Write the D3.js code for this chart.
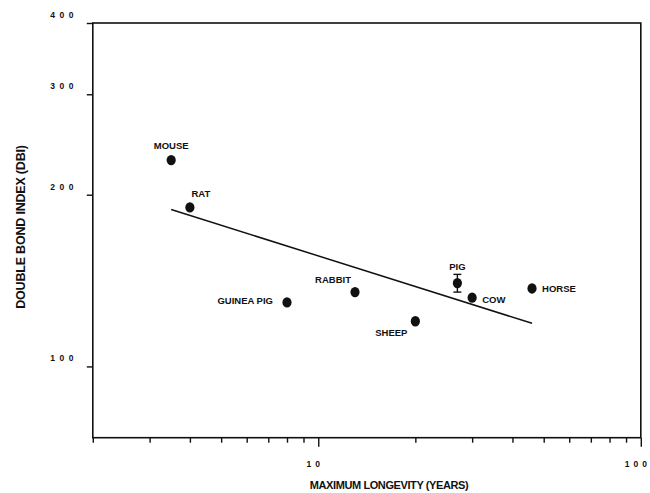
<!DOCTYPE html>
<html>
<head>
<meta charset="utf-8">
<script src="https://cdn.jsdelivr.net/npm/d3@7"></script>
<style>
  body { margin: 0; background: #fff; }
  text { font-family: "Liberation Sans", Arial, sans-serif; font-weight: bold; fill: #111; }
</style>
</head>
<body>
<div id="chart"></div>
<script>
// values
const species = ["MOUSE", "RAT", "GUINEA PIG", "RABBIT", "SHEEP", "PIG", "COW", "HORSE"];
const longevity = [3.5, 4, 8, 13, 20, 27, 30, 46];
const dbi = [230, 190, 129.5, 135, 120, 140, 132, 137];
const dbiErr = [0, 0, 0, 0, 0, 5, 0, 0];
const yTicks = [100, 200, 300, 400];
const xMajor = [10, 100];
const xMinor = [2, 3, 4, 5, 6, 7, 8, 9, 20, 30, 40, 50, 60, 70, 80, 90];

// where each name sits relative to its dot
const labelPos = {
  "MOUSE": {dx: 0, dy: -15, anchor: "middle"},
  "RAT": {dx: 11, dy: -14, anchor: "middle"},
  "GUINEA PIG": {dx: -14, dy: -2, anchor: "end"},
  "RABBIT": {dx: -22, dy: -13, anchor: "middle"},
  "SHEEP": {dx: -24, dy: 11, anchor: "middle"},
  "PIG": {dx: 0, dy: -17, anchor: "middle"},
  "COW": {dx: 10, dy: 1, anchor: "start"},
  "HORSE": {dx: 10, dy: 0, anchor: "start"}
};

const width = 650, height = 493;
const svg = d3.select("#chart").append("svg")
  .attr("width", width).attr("height", height);

const x = d3.scaleLog().domain([2, 100]).range([92.8, 640.8]);
const y = d3.scaleLog().domain([75, 400]).range([437.7, 23]);

const ink = "#111";

// frame
svg.append("rect")
  .attr("x", x(2)).attr("y", y(400))
  .attr("width", x(100) - x(2)).attr("height", y(75) - y(400))
  .attr("fill", "none").attr("stroke", ink).attr("stroke-width", 1.6);

// y axis
const yAxis = svg.append("g").attr("transform", `translate(${x(2)},0)`)
  .call(d3.axisLeft(y).tickValues(yTicks).tickSize(6).tickFormat(""));
yAxis.select(".domain").remove();
yAxis.selectAll("line").attr("stroke", ink).attr("stroke-width", 1.4);
svg.append("g").selectAll("text").data(yTicks).join("text")
  .attr("x", 78).attr("y", d => y(d) - 5)
  .attr("text-anchor", "end")
  .attr("font-size", 8.5)
  .attr("letter-spacing", 4.5)
  .text(d => d);

// x axis
const xAxisMinor = svg.append("g").attr("transform", `translate(0,${y(75)})`)
  .call(d3.axisBottom(x).tickValues(xMinor).tickSize(5).tickFormat(""));
xAxisMinor.select(".domain").remove();
xAxisMinor.selectAll("line").attr("stroke", ink).attr("stroke-width", 1.4);
const xAxisMajor = svg.append("g").attr("transform", `translate(0,${y(75)})`)
  .call(d3.axisBottom(x).tickValues(xMajor).tickSize(9).tickFormat(""));
xAxisMajor.select(".domain").remove();
xAxisMajor.selectAll("line").attr("stroke", ink).attr("stroke-width", 1.4);
svg.append("g").selectAll("text").data(xMajor).join("text")
  .attr("x", d => x(d) - 3).attr("y", 467)
  .attr("text-anchor", "middle")
  .attr("font-size", 8.5)
  .attr("letter-spacing", 4)
  .text(d => d);

// axis titles
svg.append("text")
  .attr("x", 389).attr("y", 489)
  .attr("text-anchor", "middle")
  .attr("font-size", 11)
  .attr("letter-spacing", -0.4)
  .text("MAXIMUM LONGEVITY (YEARS)");
svg.append("text")
  .attr("transform", "translate(25,227) rotate(-90)")
  .attr("text-anchor", "middle")
  .attr("font-size", 12.5)
  .attr("letter-spacing", -0.2)
  .text("DOUBLE BOND INDEX (DBI)");

// least-squares line in log-log space
const lx = longevity.map(Math.log10), ly = dbi.map(Math.log10);
const mx = d3.mean(lx), my = d3.mean(ly);
const slope = d3.sum(lx, (v, i) => (v - mx) * (ly[i] - my)) / d3.sum(lx, v => (v - mx) ** 2);
const fit = v => Math.pow(10, my + slope * (Math.log10(v) - mx));
const ends = d3.extent(longevity);
svg.append("path")
  .datum(ends)
  .attr("d", d3.line().x(d => x(d)).y(d => y(fit(d))))
  .attr("fill", "none").attr("stroke", ink).attr("stroke-width", 1.5);

// error bars
const errIdx = d3.range(species.length).filter(i => dbiErr[i] > 0);
const eb = svg.append("g").attr("stroke", ink).attr("stroke-width", 1.4);
errIdx.forEach(i => {
  const cx = x(longevity[i]);
  const y1 = y(dbi[i] + dbiErr[i]), y2 = y(dbi[i] - dbiErr[i]);
  eb.append("line").attr("x1", cx).attr("x2", cx).attr("y1", y1).attr("y2", y2);
  eb.append("line").attr("x1", cx - 4).attr("x2", cx + 4).attr("y1", y1).attr("y2", y1);
  eb.append("line").attr("x1", cx - 4).attr("x2", cx + 4).attr("y1", y2).attr("y2", y2);
});

// points
svg.append("g").selectAll("ellipse").data(species).join("ellipse")
  .attr("cx", (d, i) => x(longevity[i]))
  .attr("cy", (d, i) => y(dbi[i]))
  .attr("rx", 4.6).attr("ry", 5.2)
  .attr("fill", ink);

// point names
svg.append("g").selectAll("text").data(species).join("text")
  .attr("x", (d, i) => x(longevity[i]) + labelPos[d].dx)
  .attr("y", (d, i) => y(dbi[i]) + labelPos[d].dy + 4)
  .attr("text-anchor", d => labelPos[d].anchor)
  .attr("font-size", 9.5)
  .text(d => d);
</script>
</body>
</html>
